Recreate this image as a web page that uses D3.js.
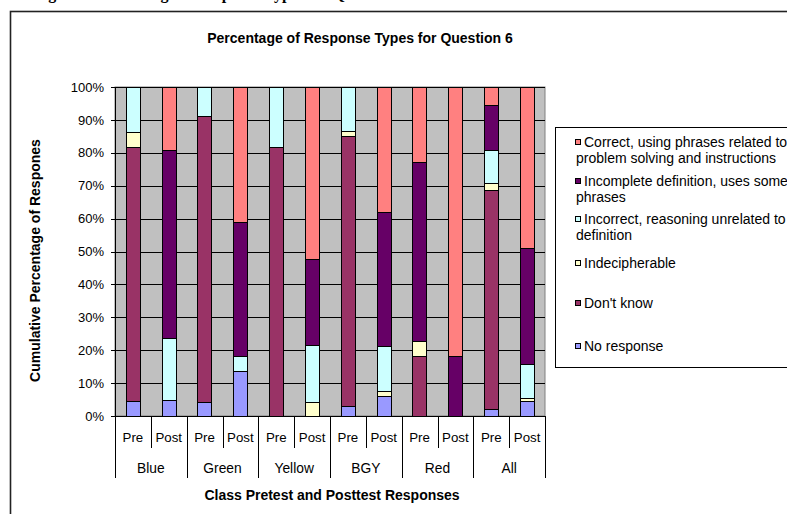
<!DOCTYPE html>
<html>
<head>
<meta charset="utf-8">
<script src="https://cdn.jsdelivr.net/npm/d3@7"></script>
<style>
  html, body { margin: 0; padding: 0; background: #fff; }
  svg { display: block; }
  text { font-family: "Liberation Sans", Arial, sans-serif; fill: #000; }
</style>
</head>
<body>
<svg id="chart" width="787" height="514"></svg>
<script>
// Classes and test phases (each class has a Pre and a Post bar)
const groups = ["Blue", "Green", "Yellow", "BGY", "Red", "All"];
const phases = ["Pre", "Post"];

// Response types, bottom of the stack first
const seriesNames = [
  "No response",
  "Don't know",
  "Indecipherable",
  "Incorrect, reasoning unrelated to definition",
  "Incomplete definition, uses some phrases",
  "Correct, using phrases related to problem solving and instructions"
];

// Percent of responses per bar, in order Blue Pre, Blue Post, ..., All Post
const noResponse     = [4.5, 4.8, 4.3, 13.6, 0, 0, 3.0, 6.1, 0, 0, 2.2, 4.5];
const dontKnow       = [77.3, 0, 87.0, 0, 81.8, 0, 82.1, 0, 18.2, 0, 66.3, 0];
const indecipherable = [4.5, 0, 0, 0, 0, 4.3, 1.5, 1.5, 4.5, 0, 2.2, 1.1];
const incorrect      = [13.6, 19.0, 8.7, 4.5, 18.2, 17.4, 13.4, 13.6, 0, 0, 10.1, 10.2];
const incomplete     = [0, 57.1, 0, 40.9, 0, 26.1, 0, 40.9, 54.5, 18.2, 13.5, 35.2];
const correct        = [0, 19.0, 0, 40.9, 0, 52.2, 0, 37.9, 22.7, 81.8, 5.6, 48.9];

const yTicks = [0, 10, 20, 30, 40, 50, 60, 70, 80, 90, 100];

const colors = ["#9999FF", "#993366", "#FFFFCC", "#CCFFFF", "#660066", "#FF8080"];

// ---- build rows for the stack ----
const seriesValues = [noResponse, dontKnow, indecipherable, incorrect, incomplete, correct];
const bars = [];
groups.forEach((g, gi) => phases.forEach((p, pi) => {
  const idx = gi * phases.length + pi;
  const row = { id: idx, group: g, phase: p };
  seriesNames.forEach((s, si) => { row[s] = seriesValues[si][idx]; });
  bars.push(row);
}));

const stacked = d3.stack()
  .keys(seriesNames)
  .offset(d3.stackOffsetExpand)(bars);

// ---- layout ----
const svg = d3.select("#chart");
const plot = { left: 115, right: 545, top: 87, bottom: 416 };
const tickFont = "13.3px";
const titleFont = "14px";

const x = d3.scaleBand()
  .domain(bars.map(d => d.id))
  .range([plot.left, plot.right])
  .paddingInner(0.6)
  .paddingOuter(0.3);

const y = d3.scaleLinear().domain([0, 1]).range([plot.bottom, plot.top]);
const yPct = d3.scaleLinear().domain([0, 100]).range([plot.bottom, plot.top]);

// outer chart frame
svg.append("rect")
  .attr("x", 10.5).attr("y", 11.5)
  .attr("width", 800).attr("height", 540)
  .attr("fill", "#fff")
  .attr("stroke", "#222").attr("stroke-width", 1.6);

// document caption above the frame (only its descenders reach the page)
svg.append("text")
  .attr("x", 34).attr("y", -1)
  .style("font-family", "'Liberation Serif', 'Times New Roman', serif")
  .style("font-weight", "bold")
  .style("font-size", "16px")
  .text("Figure 6: Percentage of Response Types for Question 6");

// plot background
svg.append("rect")
  .attr("x", plot.left).attr("y", plot.top)
  .attr("width", plot.right - plot.left).attr("height", plot.bottom - plot.top)
  .attr("fill", "#C0C0C0")
  .attr("stroke", "#808080").attr("stroke-width", 1);

// gridlines
svg.append("g")
  .selectAll("line")
  .data(yTicks.filter(t => t > 0))
  .join("line")
  .attr("x1", plot.left).attr("x2", plot.right)
  .attr("y1", d => Math.round(yPct(d)) + 0.5)
  .attr("y2", d => Math.round(yPct(d)) + 0.5)
  .attr("stroke", "#000").attr("stroke-width", 1);

// stacked bars
svg.append("g")
  .selectAll("g")
  .data(stacked)
  .join("g")
  .attr("fill", (d, i) => colors[i])
  .selectAll("rect")
  .data(d => d.filter(s => s[1] - s[0] > 1e-6))
  .join("rect")
  .attr("x", d => Math.round(x(d.data.id)) + 0.5)
  .attr("width", Math.round(x.bandwidth()))
  .attr("y", d => Math.round(y(d[1])) + 0.5)
  .attr("height", d => Math.round(y(d[0])) - Math.round(y(d[1])))
  .attr("stroke", "#000").attr("stroke-width", 1);

// y axis
const yAxis = svg.append("g");
yAxis.append("line")
  .attr("x1", plot.left + 0.5).attr("x2", plot.left + 0.5)
  .attr("y1", plot.top).attr("y2", plot.bottom)
  .attr("stroke", "#000");
yAxis.selectAll("line.tick")
  .data(yTicks)
  .join("line")
  .attr("class", "tick")
  .attr("x1", plot.left - 4).attr("x2", plot.left)
  .attr("y1", d => Math.round(yPct(d)) + 0.5)
  .attr("y2", d => Math.round(yPct(d)) + 0.5)
  .attr("stroke", "#000");
yAxis.selectAll("text")
  .data(yTicks)
  .join("text")
  .attr("x", 104)
  .attr("y", d => yPct(d))
  .attr("dy", "0.36em")
  .attr("text-anchor", "end")
  .style("font-size", "13px")
  .text(d => d + "%");

// x axis line
svg.append("line")
  .attr("x1", plot.left).attr("x2", plot.right)
  .attr("y1", plot.bottom + 0.5).attr("y2", plot.bottom + 0.5)
  .attr("stroke", "#000");

// category separators (short between Pre/Post, long between classes)
const step = x.step();
const seps = d3.range(bars.length + 1);
svg.append("g")
  .selectAll("line")
  .data(seps)
  .join("line")
  .attr("x1", i => Math.round(plot.left + i * step) + 0.5)
  .attr("x2", i => Math.round(plot.left + i * step) + 0.5)
  .attr("y1", plot.bottom)
  .attr("y2", i => (i % phases.length === 0) ? 478 : 448)
  .attr("stroke", "#000");

// Pre / Post labels
svg.append("g")
  .selectAll("text")
  .data(bars)
  .join("text")
  .attr("x", d => x(d.id) + x.bandwidth() / 2)
  .attr("y", 437)
  .attr("dy", "0.36em")
  .attr("text-anchor", "middle")
  .style("font-size", tickFont)
  .text(d => d.phase);

// class labels
svg.append("g")
  .selectAll("text")
  .data(groups)
  .join("text")
  .attr("x", (g, gi) => plot.left + (gi + 0.5) * phases.length * step)
  .attr("y", 468)
  .attr("dy", "0.36em")
  .attr("text-anchor", "middle")
  .style("font-size", "13.8px")
  .text(g => g);

// titles
svg.append("text")
  .attr("x", 360).attr("y", 38)
  .attr("dy", "0.36em")
  .attr("text-anchor", "middle")
  .style("font-size", titleFont).style("font-weight", "bold")
  .text("Percentage of Response Types for Question 6");

svg.append("text")
  .attr("x", (plot.left + plot.right) / 2 + 2).attr("y", 495)
  .attr("dy", "0.36em")
  .attr("text-anchor", "middle")
  .style("font-size", titleFont).style("font-weight", "bold")
  .text("Class Pretest and Posttest Responses");

svg.append("text")
  .attr("transform", `translate(35,${(plot.top + plot.bottom) / 2 + 9}) rotate(-90)`)
  .attr("dy", "0.36em")
  .attr("text-anchor", "middle")
  .style("font-size", titleFont).style("font-weight", "bold")
  .text("Cumulative Percentage of Respones");

// legend, top entry is the top of the stack
const legendLines = [
  ["Correct, using phrases related to", "problem solving and instructions"],
  ["Incomplete definition, uses some", "phrases"],
  ["Incorrect, reasoning unrelated to", "definition"],
  ["Indecipherable"],
  ["Don't know"],
  ["No response"]
];
const legendRowY = [142, 181, 219, 263, 303, 346];
const legend = svg.append("g");
legend.append("rect")
  .attr("x", 555.5).attr("y", 127.5)
  .attr("width", 260).attr("height", 240)
  .attr("fill", "#fff").attr("stroke", "#000");

const entries = legend.selectAll("g.entry")
  .data(legendLines)
  .join("g")
  .attr("class", "entry")
  .attr("transform", (d, i) => `translate(0,${legendRowY[i]})`);
entries.append("rect")
  .attr("x", 575.5).attr("y", -2.5)
  .attr("width", 5).attr("height", 5)
  .attr("fill", (d, i) => colors[colors.length - 1 - i])
  .attr("stroke", "#000");
entries.selectAll("text")
  .data(d => d)
  .join("text")
  .attr("x", (t, j) => j === 0 ? 584 : 576)
  .attr("y", (t, j) => j * 15.5)
  .attr("dy", "0.36em")
  .style("font-size", "14px")
  .text(t => t);
</script>
</body>
</html>
